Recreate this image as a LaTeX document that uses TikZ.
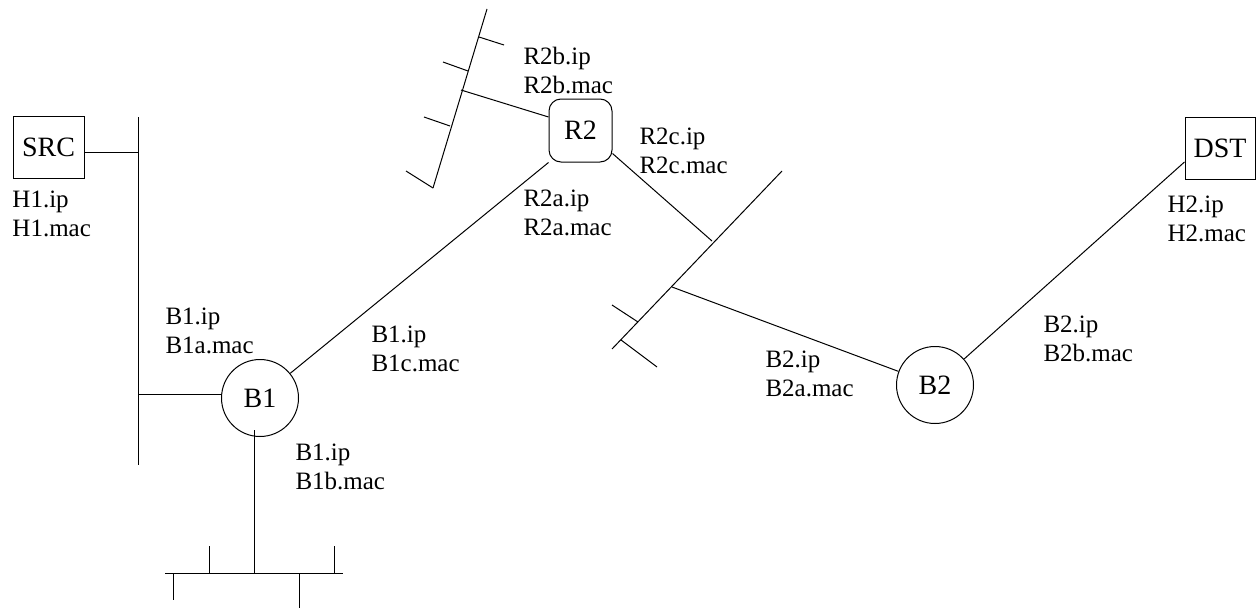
\documentclass[tikz,border=0pt]{standalone}
\usepackage{fontspec}
\setmainfont{Liberation Serif}
\begin{document}
\begin{tikzpicture}[x=1pt,y=-1pt,line width=1pt,
  lbl/.style={anchor=base west,align=left,inner sep=0pt,font=\fontsize{25}{29}\selectfont},
  host/.style={draw,minimum width=71pt,minimum height=62pt,inner sep=0pt,font=\fontsize{28}{30}\selectfont},
  bridge/.style={draw,circle,minimum size=77pt,inner sep=0pt,font=\fontsize{28}{30}\selectfont},
  router/.style={draw,rounded corners=12pt,minimum size=63pt,inner sep=0pt,font=\fontsize{28}{30}\selectfont}]
\useasboundingbox (0,0) rectangle (1256,608);
% nodes
\node[host] (src) at (48.5,147.5) {SRC};
\node[host,minimum width=70pt] (dst) at (1220,148) {DST};
\node[router] (r2) at (580.5,130.5) {R2};
\node[bridge] (b1) at (260,398) {B1};
\node[bridge] (b2) at (935,385) {B2};
% bus 1 (vertical, left)
\coordinate (s1top) at (138,117);
\coordinate (s1bot) at (138,465);
\coordinate (j1) at (138,152);
\coordinate (j2) at (138,394);
\draw (s1top) -- (s1bot);
\draw (src.east |- j1) -- (j1);
\draw (j2) -- (b1.west |- j2);
% bus below B1
\coordinate (b1d) at (254,430);
\coordinate (j3) at (254,573);
\draw (b1d) -- (j3);
\draw (165,573) -- (343,573);
\draw (209,546) -- (209,573);
\draw (334,546) -- (334,573);
\draw (173,573) -- (173,600);
\draw (299,573) -- (299,608);
% B1 - R2
\draw (b1) -- (r2.south west);
% bus R2b (top)
\coordinate (j6) at (461,90);
\draw (487,9) -- (433,188);
\draw (479,37) -- (504,45);
\draw (443,62) -- (468,71);
\draw (424,117) -- (450,126);
\draw (406,171) -- (433,188);
\draw (j6) -- ([yshift=13.5pt]r2.west);
% bus R2c (middle)
\coordinate (j4) at (712,241);
\coordinate (j5) at (672,287);
\draw (782,171) -- (612,349);
\draw (638,322) -- (612,305);
\draw (621,340) -- (657,367);
\draw ([yshift=9pt]r2.south east) -- (j4);
\draw (j5) -- (b2);
% B2 - DST
\draw (b2) -- ([yshift=-14pt]dst.west);
% labels (anchor = baseline of the last line)
\node[lbl] (lh1) at (12,236) {H1.ip\\H1.mac};
\node[lbl] (lr2b) at (523,93) {R2b.ip\\R2b.mac};
\node[lbl] (lr2c) at (639,173) {R2c.ip\\R2c.mac};
\node[lbl] (lr2a) at (523,235) {R2a.ip\\R2a.mac};
\node[lbl] (lb1a) at (165,353) {B1.ip\\B1a.mac};
\node[lbl] (lb1c) at (371,371) {B1.ip\\B1c.mac};
\node[lbl] (lb1b) at (295,489) {B1.ip\\B1b.mac};
\node[lbl] (lb2a) at (765,396) {B2.ip\\B2a.mac};
\node[lbl] (lb2b) at (1043,361) {B2.ip\\B2b.mac};
\node[lbl] (lh2) at (1167,241) {H2.ip\\H2.mac};
\end{tikzpicture}
\end{document}
